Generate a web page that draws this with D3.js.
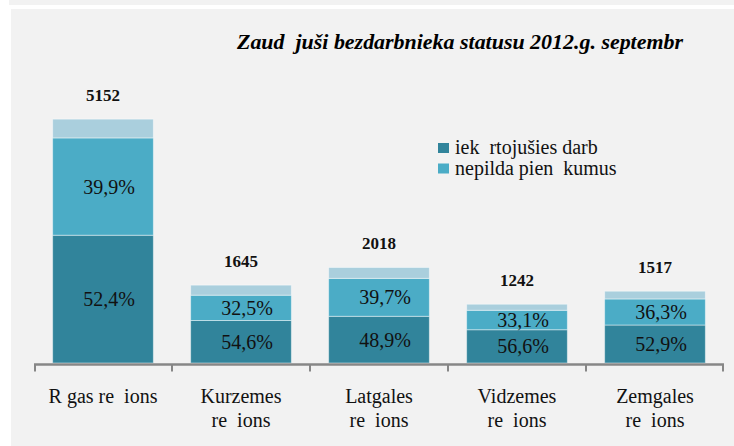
<!DOCTYPE html>
<html>
<head>
<meta charset="utf-8">
<script src="https://cdn.jsdelivr.net/npm/d3@7"></script>
<style>
  body { margin: 0; background: #fff; }
  svg text { white-space: pre; }
</style>
</head>
<body>
<div id="chart"></div>
<script>
// data
const regions = ["R gas re  ions", "Kurzemes|re  ions", "Latgales|re  ions", "Vidzemes|re  ions", "Zemgales|re  ions"];
const totals = [5152, 1645, 2018, 1242, 1517];
const quitJob = [52.4, 54.6, 48.9, 56.6, 52.9];      // iek rtojušies darb
const breach = [39.9, 32.5, 39.7, 33.1, 36.3];       // nepilda pien kumus
const other = [7.7, 12.9, 11.4, 10.3, 10.8];         // rest (no legend)
const seriesNames = ["iek  rtojušies darb", "nepilda pien  kumus"];
const title = "Zaud  juši bezdarbnieka statusu 2012.g. septembr";

const width = 734, height = 446;
const colors = ["#31849b", "#4bacc6", "#aacfdd"];
const serif = "'Liberation Serif', 'Times New Roman', Tinos, 'Noto Serif', 'DejaVu Serif', FreeSerif, serif";

const svg = d3.select("#chart").append("svg")
    .attr("width", width)
    .attr("height", height)
    .style("font-family", serif);

// top strip + panel
svg.append("rect").attr("x", 9).attr("y", 0).attr("width", width - 9).attr("height", 5).attr("fill", "#f2f2f2");
svg.append("rect").attr("x", 11).attr("y", 9).attr("width", width - 11).attr("height", height - 9).attr("fill", "#f2f2f2");

const x = d3.scaleBand()
    .domain(regions)
    .range([34, 724])
    .paddingInner(0.27)
    .paddingOuter(0.135);

const y = d3.scaleLinear()
    .domain([0, 6000])
    .range([363, 79]);

const rows = regions.map((r, i) => {
    const parts = [quitJob[i], breach[i], other[i]];
    let acc = 0;
    const segs = parts.map((p, k) => {
        const v0 = acc;
        acc += totals[i] * p / 100;
        return { region: r, k: k, pct: p, v0: v0, v1: acc };
    });
    return { region: r, total: totals[i], segs: segs };
});

const g = svg.append("g");

const bar = g.selectAll(".bar")
    .data(rows)
    .enter()
    .append("g")
    .attr("class", "bar");

bar.selectAll("rect")
    .data(d => d.segs)
    .enter()
    .append("rect")
    .attr("x", d => x(d.region))
    .attr("width", x.bandwidth())
    .attr("y", d => y(d.v1))
    .attr("height", d => y(d.v0) - y(d.v1))
    .attr("fill", d => colors[d.k])
    .attr("stroke", "rgba(255,255,255,0.45)")
    .attr("stroke-width", 1);

// percent labels on the two main segments
bar.selectAll(".pct")
    .data(d => d.segs.filter(s => s.k < 2))
    .enter()
    .append("text")
    .attr("class", "pct")
    .attr("x", d => x(d.region) + x.bandwidth() / 2 + 6)
    .attr("y", d => (y(d.v0) + y(d.v1)) / 2)
    .attr("dy", "0.35em")
    .attr("text-anchor", "middle")
    .attr("font-size", 20)
    .attr("fill", "#111")
    .text(d => d3.format(".1f")(d.pct).replace(".", ",") + "%");

// totals
bar.append("text")
    .attr("x", d => x(d.region) + x.bandwidth() / 2)
    .attr("y", d => y(d.total) - 18)
    .attr("text-anchor", "middle")
    .attr("font-size", 17)
    .attr("font-weight", "bold")
    .attr("fill", "#111")
    .text(d => d.total);

// category axis: ticks at band boundaries
const axisY = 364.5;
const bounds = regions.map(r => x(r) - x.step() * x.paddingInner() / 2);
bounds.push(724);
const axis = svg.append("g").attr("stroke", "#878787").attr("fill", "none");
axis.append("line").attr("x1", 34).attr("x2", 724).attr("y1", axisY).attr("y2", axisY).attr("stroke-width", 2.5);
axis.selectAll(".tick")
    .data(bounds)
    .enter()
    .append("line")
    .attr("x1", d => Math.max(35, Math.min(723, d)))
    .attr("x2", d => Math.max(35, Math.min(723, d)))
    .attr("y1", axisY)
    .attr("y2", axisY + 7)
    .attr("stroke-width", 2);

const labels = svg.selectAll(".cat")
    .data(regions)
    .enter()
    .append("text")
    .attr("class", "cat")
    .attr("text-anchor", "middle")
    .attr("font-size", 20)
    .attr("fill", "#111")
    .attr("y", 403);
labels.selectAll("tspan")
    .data(d => d.split("|").map(t => ({ t: t, c: x(d) + x.bandwidth() / 2 })))
    .enter()
    .append("tspan")
    .attr("x", d => d.c)
    .attr("dy", (d, i) => i === 0 ? 0 : 24)
    .text(d => d.t);

// legend
const legend = svg.append("g").attr("transform", "translate(438,143)");
const li = legend.selectAll("g")
    .data(seriesNames)
    .enter()
    .append("g")
    .attr("transform", (d, i) => `translate(0,${i * 20.5})`);
li.append("rect").attr("width", 11).attr("height", 10).attr("fill", (d, i) => colors[i]);
li.append("text")
    .attr("x", 17)
    .attr("y", 11)
    .attr("font-size", 20)
    .attr("fill", "#111")
    .text(d => d);

// title, stretched to the width it has in the picture
svg.append("text")
    .attr("x", 237)
    .attr("y", 49)
    .attr("font-size", 20)
    .attr("font-weight", "bold")
    .attr("font-style", "italic")
    .attr("fill", "#000")
    .attr("textLength", 446)
    .attr("lengthAdjust", "spacingAndGlyphs")
    .text(title);
</script>
</body>
</html>
